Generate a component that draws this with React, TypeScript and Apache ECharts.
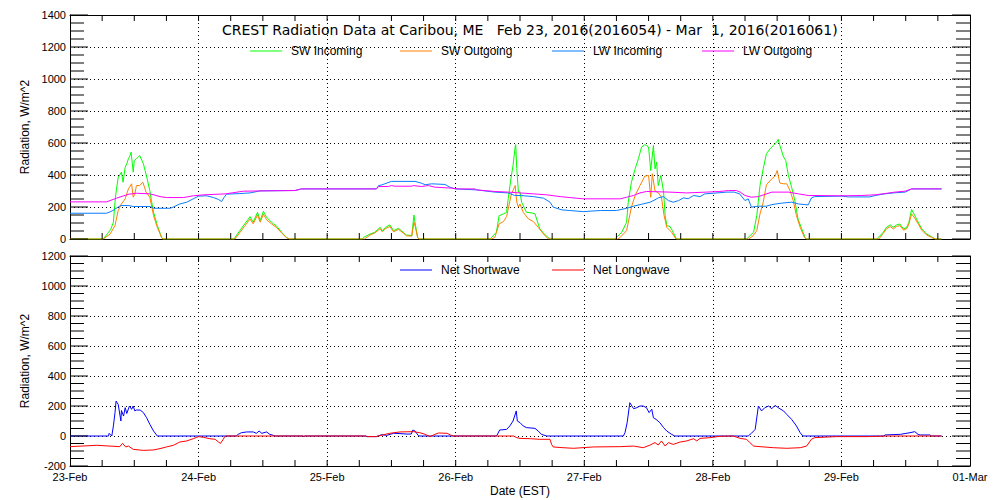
import React, { useEffect, useRef } from "react";
import * as echarts from "echarts";

const FONT = "'Liberation Sans', Arial, sans-serif";
const TITLE_FONT = "'DejaVu Sans', sans-serif";

const dayLabels = ["23-Feb", "24-Feb", "25-Feb", "26-Feb", "27-Feb", "28-Feb", "29-Feb", "01-Mar"];
const titleText = "CREST Radiation Data at Caribou, ME   Feb 23, 2016(2016054) - Mar  1, 2016(2016061)";
const topLegend = ["SW Incoming", "SW Outgoing", "LW Incoming", "LW Outgoing"];
const bottomLegend = ["Net Shortwave", "Net Longwave"];

// [hours since 23-Feb 00:00, W/m^2]
const swIncoming = [
  [0, 0], [6.2, 0], [7.2, 42], [7.6, 60], [8.1, 105], [8.4, 230], [8.6, 293], [9, 387], [9.3, 400], [9.6, 418], [9.9, 355], [10.3, 449], [10.6, 470], [10.9, 502], [11.2, 520], [11.4, 543], [11.6, 480], [11.8, 418], [12.0, 491], [12.4, 502], [12.7, 510], [13, 522], [13.3, 500], [13.7, 470], [14.0, 430], [14.4, 376], [14.9, 303], [15.2, 240], [15.6, 167], [16.3, 84], [17.1, 10], [17.3, 0],
  [30.6, 0], [30.8, 10], [31.7, 52], [32.6, 94], [33.2, 120], [33.6, 140], [34.2, 105], [35, 167], [35.5, 115], [36.1, 173], [36.7, 136], [37.6, 105], [38.6, 79], [39.5, 42], [40.4, 10], [41, 0],
  [54.6, 0], [54.8, 10], [56, 31], [56.9, 42], [57.9, 73], [58.3, 52], [58.9, 73], [59.7, 88], [60.4, 52], [61.3, 67], [62.2, 42], [62.8, 25], [63.8, 21], [64.2, 150], [64.5, 84], [64.9, 10], [65.2, 0],
  [78.5, 0], [78.7, 10], [79.6, 42], [80.1, 146], [80.9, 157], [81.5, 167], [81.8, 251], [82.3, 376], [82.7, 460], [83.1, 575], [83.2, 590], [83.4, 439], [83.7, 293], [84, 293], [84.3, 230], [85.2, 167], [86.2, 163], [86.8, 157], [87.1, 125], [87.7, 63], [88.7, 25], [89.6, 0],
  [101.8, 0], [102, 10], [103, 42], [103.9, 105], [104.2, 230], [104.8, 355], [105.5, 439], [106.1, 502], [106.7, 575], [107.3, 589], [107.6, 585], [108, 575], [108.4, 428], [108.9, 585], [109.2, 439], [109.5, 481], [109.8, 334], [110.3, 397], [110.8, 293], [111.1, 146], [111.4, 84], [112, 78], [112.6, 42], [113.2, 0],
  [126.4, 0], [126.6, 10], [127.6, 42], [128.2, 146], [128.8, 334], [129.4, 439], [130, 533], [130.7, 564], [131.3, 585], [131.9, 606], [132.2, 623], [132.5, 585], [133.2, 512], [133.6, 491], [134.1, 397], [134.7, 324], [135.3, 240], [135.9, 125], [136.6, 63], [137.2, 10], [137.5, 0],
  [150.7, 0], [150.9, 10], [151.8, 42], [152.4, 73], [153.1, 88], [153.7, 73], [154.3, 88], [154.9, 94], [155.6, 63], [156.2, 73], [156.6, 105], [157.1, 184], [157.7, 146], [158.4, 100], [159, 63], [159.9, 31], [160.8, 15], [161.5, 0], [162.7, 0],
];

const swOutgoing = [
  [0, 0], [6.2, 0], [7.5, 31], [8.4, 84], [9, 178], [9.6, 219], [10.3, 251], [10.9, 313], [11.5, 345], [11.8, 261], [12.1, 280], [12.4, 334], [13, 334], [13.6, 355], [14.2, 293], [14.9, 261], [15.6, 146], [16.3, 73], [17.1, 10], [17.3, 0],
  [30.8, 0], [31.7, 40], [32.6, 80], [33.6, 125], [34.2, 95], [35, 150], [35.5, 105], [36.1, 155], [36.7, 120], [37.6, 95], [38.6, 70], [39.5, 38], [40.4, 8], [41, 0],
  [55, 0], [56, 25], [56.9, 38], [57.9, 65], [58.3, 45], [58.9, 65], [59.7, 78], [60.4, 45], [61.3, 60], [62.2, 38], [62.8, 20], [63.8, 18], [64.2, 105], [64.5, 70], [64.9, 8], [65.2, 0],
  [78.7, 0], [79.3, 10], [80.1, 94], [80.9, 109], [81.5, 140], [81.8, 188], [82.4, 282], [83.1, 334], [83.4, 230], [83.7, 200], [84, 219], [84.6, 167], [85.6, 125], [86.5, 109], [87.4, 73], [88.4, 31], [89.3, 0],
  [102.2, 0], [102.7, 10], [103.9, 52], [104.8, 199], [105.5, 272], [106.4, 334], [107.3, 393], [108, 397], [108.4, 261], [108.7, 408], [109.2, 300], [109.8, 290], [110.4, 261], [110.9, 146], [111.4, 73], [112.3, 42], [113.1, 0],
  [126.7, 0], [127.5, 20], [128.2, 52], [128.8, 157], [129.4, 230], [130, 339], [131, 376], [131.6, 393], [132, 428], [132.5, 350], [133.2, 345], [133.8, 345], [134.4, 303], [135, 240], [135.6, 146], [136.3, 73], [137.1, 10], [137.4, 0],
  [151, 0], [151.8, 35], [152.4, 63], [153.1, 78], [153.7, 63], [154.3, 78], [154.9, 84], [155.6, 55], [156.2, 65], [156.6, 95], [157.1, 157], [157.7, 130], [158.4, 90], [159, 55], [159.9, 25], [160.8, 10], [161.5, 0], [162.7, 0],
];

const lwIncoming = [
  [0, 161], [6.8, 161], [7.5, 170], [8, 178], [9, 200], [9.5, 209], [11, 209], [11.8, 203], [15, 203], [15.6, 192], [18.7, 192], [19.3, 200], [20.5, 219], [21.8, 230], [23, 251], [24, 268], [25.5, 270], [26.8, 259], [27.7, 247], [28.3, 234], [28.7, 257], [29.2, 280], [31.7, 284], [33.6, 288], [35.5, 301], [42, 303], [43.2, 313],
  [57.2, 313], [57.6, 334], [58.2, 338], [60, 360], [64.4, 360], [65.6, 349], [66.3, 339], [67.5, 345], [70, 341], [70.9, 324], [71.9, 313], [75.9, 307], [79.3, 293], [81.8, 288], [83, 272], [84, 272], [86.5, 265], [88.4, 255], [89.6, 230], [90.2, 199], [91.8, 182], [93.3, 178], [95.8, 171], [99, 178], [102, 178],
  [103.9, 192], [105.2, 205], [106.7, 217], [108.3, 230], [109.2, 245], [109.8, 257], [110.8, 265], [111.7, 240], [112.6, 230], [113.6, 240], [114.5, 257], [115.4, 252], [116.4, 272], [117.6, 265], [118.5, 282], [120.1, 286], [122.6, 293], [124, 293], [125, 282], [126, 240], [126.6, 251], [127.2, 199],
  [127.9, 203], [128.5, 205], [130, 205], [131, 215], [132.8, 224], [134.7, 230], [136, 219], [137.8, 213], [138.4, 257], [139, 265], [144, 268], [145.3, 263], [149.3, 263], [150.3, 272], [152.1, 282], [153.7, 288], [155.9, 293], [157.1, 313], [162.7, 313],
];

const lwOutgoing = [
  [0, 232], [6.8, 232], [8.7, 255], [10, 270], [11, 280], [12.4, 286], [15, 282], [16.8, 265], [18, 259], [21.2, 259], [23, 270], [25, 276], [29, 282], [32.4, 299], [42, 303], [43.2, 313],
  [57.2, 313], [57.6, 328], [59.4, 328], [60, 334], [60.6, 330], [63.8, 330], [64.1, 334], [65.6, 328], [66.9, 334], [68.1, 324], [71.2, 318], [72.5, 313], [75.6, 313], [75.9, 307], [79.3, 297], [81.8, 293], [84, 288], [86.5, 282], [89, 276], [91.5, 265], [93.3, 259], [95.8, 251],
  [102.7, 251], [103.9, 261], [105.2, 272], [106.4, 288], [107.6, 297], [112, 293], [115.1, 288], [118.8, 293], [121.3, 297], [122.9, 303], [124.4, 303], [125.1, 293], [126, 272], [127.2, 261], [128.5, 265], [131, 293], [134.1, 293], [136, 282], [137.8, 272],
  [144, 270], [147.8, 272], [150.3, 276], [152.1, 284], [154, 293], [155.9, 299], [157.1, 313], [162.7, 313],
];

const netShortwave = [
  [0, 0], [7.2, 0], [7.3, 18], [7.8, 0], [8.1, 67], [8.4, 156], [8.6, 233], [9, 211], [9.5, 100], [9.6, 170], [10, 133], [10.3, 189], [10.6, 150], [11.1, 200], [11.5, 178], [11.8, 200], [12.1, 167], [12.4, 173], [13.1, 173], [13.7, 156], [14.3, 122], [14.9, 78], [15.6, 33], [16.3, 0],
  [31, 0], [31.4, 11], [32, 22], [33, 27], [34.2, 27], [34.8, 18], [35.3, 33], [35.8, 18], [36.7, 27], [37.3, 11], [38, 4], [38.3, 0],
  [43.5, 0], [43.6, -4], [43.9, 0],
  [55.3, 0], [55.4, -4], [57.2, -4], [58.2, 9], [59.1, 4], [60.4, 18], [61.6, 16], [62.9, 13], [63.7, 13], [64, 40], [64.4, 33], [65, 4], [65.3, 0],
  [79.5, 0], [79.7, 4], [80.2, 40], [81.5, 44], [82.1, 67], [82.7, 100], [83.3, 167], [83.5, 100], [84, 89], [84.6, 67], [85.2, 56], [86.8, 51], [87.4, 33], [88, 11], [89, 0],
  [103.3, 0], [103.6, 22], [104, 89], [104.5, 222], [105.2, 182], [105.8, 189], [106.4, 200], [107, 200], [107.6, 189], [108.1, 156], [108.6, 178], [108.9, 122], [109.4, 111], [110.1, 89], [110.8, 56], [111.4, 33], [112.3, 11], [112.9, 0],
  [126.6, 0], [127.2, 18], [127.9, 44], [128.5, 200], [129.1, 167], [129.7, 189], [130.4, 200], [131, 182], [131.6, 204], [132.2, 189], [133.2, 167], [133.8, 144], [134.7, 111], [135.6, 67], [136.3, 22], [136.8, 0],
  [152, 0], [152.1, 7], [155, 11], [156.8, 22], [157.7, 29], [158.3, 11], [158.7, 7], [160.5, 7], [160.8, 0], [162.7, 0],
];

const netLongwave = [
  [0, -71], [5, -62], [9.3, -71], [9.8, -49], [10.4, -73], [10.9, -67], [11.8, -89], [13.7, -96], [15.6, -93], [16.8, -84], [18, -73], [19.3, -62], [20.5, -40], [21.8, -33], [23, -18], [24, -4], [24.9, -9], [26.1, -18], [27.1, -22], [27.7, -40], [28.1, -49], [28.6, -22], [28.9, -4], [29.2, 0],
  [55.3, 0], [55.4, -4], [57.2, -4], [58.8, 11], [59.7, 18], [61.6, 27], [64.1, 29], [65.3, 22], [66.3, 11], [67.2, -4], [68.1, 11], [68.8, 20], [70.4, 18], [71, 7], [71.6, 0],
  [82.9, 0], [83, -4], [83.4, -11], [84, -16], [86, -18], [87.7, -22], [89.6, -22], [89.9, -56], [90.2, -73], [92, -78], [94, -82], [97.7, -73], [102.7, -71], [105.2, -67], [107, -78], [108.3, -60], [109.2, -44], [109.8, -60], [110.4, -33], [111.1, -67], [111.7, -44], [112.6, -56], [113.9, -40], [115.1, -33], [116.4, -18], [117, -33], [117.6, -16], [119.5, -11], [121.3, -2], [123.8, 0],
  [125.1, -16], [126.3, -22], [126.9, -44], [127.6, -67], [128.8, -71], [131.3, -78], [133.8, -82], [136.3, -78], [137.5, -67], [138.4, -22], [139, -11], [143.1, -4], [149, -4], [152.4, 0], [162.7, 0],
];

const seriesColors = {
  swIn: "#00ff00",
  swOut: "#ff8000",
  lwIn: "#0a7cff",
  lwOut: "#ff00ff",
  netSw: "#0000ff",
  netLw: "#ff0000",
};

const X_MIN = 0;
const X_MAX = 168;
const X_MAJOR = 24;
const X_MINOR = 6;
const Y_MAJOR = 200;
const Y_MINOR = 50;

// layout (px)
const GRID_LEFT = 70;
const GRID_RIGHT = 30;
const CHART_W = 1000;
const PLOT_W = CHART_W - GRID_LEFT - GRID_RIGHT;
const TOP_GRID = { top: 15, height: 224 };
const BOT_GRID = { top: 256, height: 210 };
const Y_MAJOR_TICK_PX = 18;
const Y_MINOR_TICK_PX = 14;
const X_TICK_PX = 6;

const black = "#000000";
const dotted = { color: black, width: 1, type: [1, 3] as any };
const axisLine = { show: true, onZero: false, lineStyle: { color: black } };

function axesFor(gi: number, ymin: number, ymax: number, withDates: boolean) {
  const xBottom: any = {
    type: "value", gridIndex: gi, min: X_MIN, max: X_MAX, interval: X_MAJOR, position: "bottom",
    axisLine, axisTick: { show: false }, minorTick: { show: false },
    splitLine: { show: true, lineStyle: dotted },
    axisLabel: withDates
      ? { show: true, fontSize: 11, fontFamily: FONT, color: black, margin: 5,
          formatter: (v: number) => dayLabels[Math.round(v / X_MAJOR)] || "" }
      : { show: false },
  };
  if (withDates) {
    xBottom.name = "Date (EST)";
    xBottom.nameLocation = "middle";
    xBottom.nameGap = 19;
    xBottom.nameTextStyle = { fontSize: 12, fontFamily: FONT, color: black };
  }
  const xTop: any = {
    type: "value", gridIndex: gi, min: X_MIN, max: X_MAX, interval: X_MAJOR, position: "top",
    axisLine, axisTick: { show: false }, axisLabel: { show: false }, splitLine: { show: false },
  };
  const yLeft: any = {
    type: "value", gridIndex: gi, min: ymin, max: ymax, interval: Y_MAJOR, position: "left",
    axisLine, axisTick: { show: false }, minorTick: { show: false },
    splitLine: { show: true, lineStyle: dotted },
    axisLabel: { show: true, fontSize: 11, fontFamily: FONT, color: black, margin: 4,
      formatter: (v: number) => String(v) },
    name: "Radiation, W/m^2", nameLocation: "middle", nameGap: 33,
    nameTextStyle: { fontSize: 12, fontFamily: FONT, color: black },
  };
  const yRight: any = {
    type: "value", gridIndex: gi, min: ymin, max: ymax, interval: Y_MAJOR, position: "right",
    axisLine, axisTick: { show: false }, axisLabel: { show: false }, splitLine: { show: false },
  };
  return { x: [xBottom, xTop], y: [yLeft, yRight] };
}

function lineSeries(name: string, data: number[][], color: string, xi: number, yi: number) {
  return {
    type: "line",
    name,
    data,
    xAxisIndex: xi,
    yAxisIndex: yi,
    symbol: "none",
    lineStyle: { color, width: 1 },
    itemStyle: { color },
  };
}

// Axis tick marks, drawn as broken line segments through the axes' scales.
function tickSeries(xi: number, yi: number, ymin: number, ymax: number, plotH: number) {
  const hPerPx = (X_MAX - X_MIN) / PLOT_W;
  const vPerPx = (ymax - ymin) / plotH;
  const data: any[] = [];
  for (let v = ymin; v <= ymax; v += Y_MINOR) {
    const len = (v % Y_MAJOR === 0 ? Y_MAJOR_TICK_PX : Y_MINOR_TICK_PX) * hPerPx;
    data.push([X_MIN, v], [X_MIN + len, v], [X_MIN + len, null]);
    data.push([X_MAX - len, v], [X_MAX, v], [X_MAX, null]);
  }
  const dy = X_TICK_PX * vPerPx;
  for (let h = X_MIN + X_MINOR; h < X_MAX; h += X_MINOR) {
    data.push([h, ymin], [h, ymin + dy], [h, null]);
    data.push([h, ymax - dy], [h, ymax], [h, null]);
  }
  return {
    type: "line",
    name: "_ticks" + xi,
    data,
    xAxisIndex: xi,
    yAxisIndex: yi,
    symbol: "none",
    silent: true,
    clip: false,
    connectNulls: false,
    lineStyle: { color: black, width: 1 },
    itemStyle: { color: black },
    z: 4,
  };
}

export default function App() {
  const ref = useRef<HTMLDivElement>(null);
  useEffect(() => {
    if (!ref.current) return;
    const chart = echarts.init(ref.current, null, { renderer: "svg" });
    const legendItem = (name: string, left: number, top: number) => ({
      data: [name],
      left,
      top,
      padding: 0,
      itemWidth: 32,
      itemHeight: 1,
      icon: "rect",
      textStyle: { fontSize: 12, fontFamily: FONT, color: black, padding: [0, 0, 0, 4] },
    });
    const top = axesFor(0, 0, 1400, false);
    const bot = axesFor(1, -200, 1200, true);
    chart.setOption({
      animation: false,
      backgroundColor: "#ffffff",
      title: {
        text: titleText,
        left: 222,
        top: 23,
        padding: 0,
        textStyle: { fontSize: 14, fontWeight: "normal", fontFamily: TITLE_FONT, color: black },
      },
      legend: [
        legendItem(topLegend[0], 250, 45),
        legendItem(topLegend[1], 400, 45),
        legendItem(topLegend[2], 552, 45),
        legendItem(topLegend[3], 702, 45),
        legendItem(bottomLegend[0], 400, 264),
        legendItem(bottomLegend[1], 552, 264),
      ],
      grid: [
        { left: GRID_LEFT, right: GRID_RIGHT, top: TOP_GRID.top, height: TOP_GRID.height },
        { left: GRID_LEFT, right: GRID_RIGHT, top: BOT_GRID.top, height: BOT_GRID.height },
      ],
      xAxis: [...top.x, ...bot.x],
      yAxis: [...top.y, ...bot.y],
      series: [
        lineSeries("SW Incoming", swIncoming, seriesColors.swIn, 0, 0),
        lineSeries("SW Outgoing", swOutgoing, seriesColors.swOut, 0, 0),
        lineSeries("LW Incoming", lwIncoming, seriesColors.lwIn, 0, 0),
        lineSeries("LW Outgoing", lwOutgoing, seriesColors.lwOut, 0, 0),
        lineSeries("Net Shortwave", netShortwave, seriesColors.netSw, 2, 2),
        lineSeries("Net Longwave", netLongwave, seriesColors.netLw, 2, 2),
        tickSeries(0, 0, 0, 1400, TOP_GRID.height),
        tickSeries(2, 2, -200, 1200, BOT_GRID.height),
      ],
    });
    return () => chart.dispose();
  }, []);
  return (
    <div
      ref={ref}
      style={{ position: "fixed", left: 0, top: 0, width: 1000, height: 500, background: "#fff" }}
    />
  );
}
